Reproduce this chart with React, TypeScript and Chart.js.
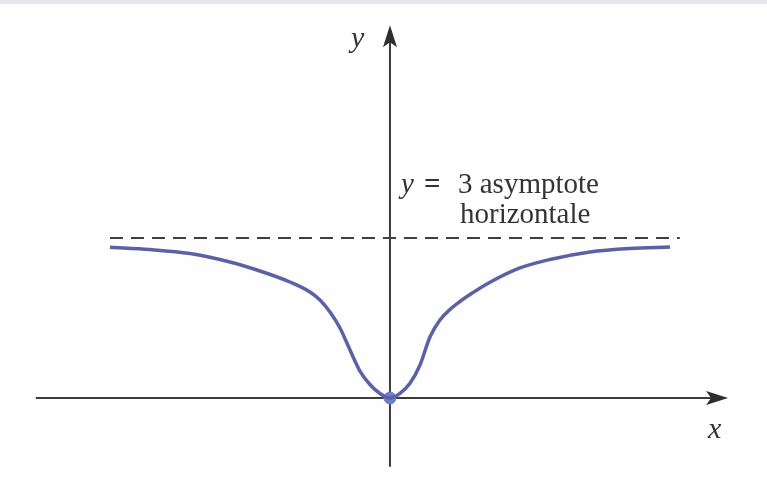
import React, { useEffect, useRef } from "react";
import { Chart, registerables } from "chart.js";

Chart.register(...registerables);

// Curve samples (x, y) of the function with horizontal asymptote y = 3
const curveX = [-4.0, -3.429, -2.857, -2.286, -1.857, -1.429, -1.143, -1.0, -0.857, -0.714, -0.571, -0.429, -0.286, -0.143, 0, 0.143, 0.286, 0.429, 0.571, 0.714, 0.857, 1.0, 1.143, 1.429, 1.857, 2.286, 2.857, 3.429, 4.0];
const curveY = [2.826, 2.784, 2.709, 2.55, 2.381, 2.175, 1.988, 1.838, 1.613, 1.313, 0.9, 0.506, 0.253, 0.084, 0, 0.088, 0.276, 0.619, 1.144, 1.463, 1.66, 1.81, 1.94, 2.17, 2.438, 2.597, 2.738, 2.803, 2.831];

// Horizontal asymptote y = 3
const asymptoteX = [-4.0, 4.14];
const asymptoteValue = 3;

// Point marked at the origin
const originPoint = [0, 0];

// Axis extents (data units)
const xRange = [-5.571, 5.386];
const yRange = [-1.781, 7.4625];
const xAxisExtent = [-5.06, 4.83];
const yAxisExtent = [-1.29, 6.99];

const serif = '"Liberation Serif", "DejaVu Serif", "Times New Roman", serif';

const axesPlugin = {
  id: "mathAxes",
  beforeDraw(chart: any) {
    const { ctx, width, height } = chart;
    ctx.save();
    ctx.fillStyle = "#fefefe";
    ctx.fillRect(0, 0, width, height);
    ctx.fillStyle = "#e6e7ec";
    ctx.fillRect(0, 0, width, 4);
    ctx.restore();
  },
  beforeDatasetsDraw(chart: any) {
    const { ctx } = chart;
    const xs = chart.scales.x;
    const ys = chart.scales.y;
    const x0 = xs.getPixelForValue(0);
    const y0 = ys.getPixelForValue(0);
    const xl = xs.getPixelForValue(xAxisExtent[0]);
    const xr = xs.getPixelForValue(xAxisExtent[1]);
    const yb = ys.getPixelForValue(yAxisExtent[0]);
    const yt = ys.getPixelForValue(yAxisExtent[1]);
    ctx.save();
    ctx.strokeStyle = "#3c3c3c";
    ctx.fillStyle = "#2e2e2e";
    ctx.lineWidth = 2;
    // x axis
    ctx.beginPath();
    ctx.moveTo(xl, y0);
    ctx.lineTo(xr - 10, y0);
    ctx.stroke();
    ctx.beginPath();
    ctx.moveTo(xr, y0);
    ctx.lineTo(xr - 22, y0 - 7);
    ctx.lineTo(xr - 17, y0);
    ctx.lineTo(xr - 22, y0 + 7);
    ctx.closePath();
    ctx.fill();
    // y axis
    ctx.beginPath();
    ctx.moveTo(x0, yb);
    ctx.lineTo(x0, yt + 10);
    ctx.stroke();
    ctx.beginPath();
    ctx.moveTo(x0, yt);
    ctx.lineTo(x0 - 7, yt + 22);
    ctx.lineTo(x0, yt + 17);
    ctx.lineTo(x0 + 7, yt + 22);
    ctx.closePath();
    ctx.fill();

    // labels
    ctx.fillStyle = "#333333";
    ctx.textBaseline = "alphabetic";
    ctx.textAlign = "left";
    ctx.font = `italic 30px ${serif}`;
    ctx.fillText("y", x0 - 39, yt + 22);
    ctx.fillText("x", xr - 20, y0 + 40);

    const ya = ys.getPixelForValue(asymptoteValue);
    ctx.font = `italic 29px ${serif}`;
    ctx.fillText("y", x0 + 11, ya - 45);
    ctx.font = `bold 29px ${serif}`;
    ctx.fillText("=", x0 + 34, ya - 45);
    ctx.font = `29px ${serif}`;
    ctx.fillText("3 asymptote", x0 + 68, ya - 45);
    ctx.fillText("horizontale", x0 + 70, ya - 15);
    ctx.restore();
  },
};

export default function App() {
  const ref = useRef<HTMLCanvasElement | null>(null);

  useEffect(() => {
    if (!ref.current) return;
    const curve = curveX.map((x, i) => ({ x, y: curveY[i] }));
    const asymptote = asymptoteX.map((x) => ({ x, y: asymptoteValue }));
    const chart = new Chart(ref.current, {
      type: "scatter",
      data: {
        datasets: [
          {
            data: asymptote,
            showLine: true,
            borderColor: "#404040",
            borderWidth: 2,
            borderDash: [13, 8],
            pointRadius: 0,
          },
          {
            data: curve,
            showLine: true,
            borderColor: "#5a62a4",
            borderWidth: 3.5,
            cubicInterpolationMode: "monotone",
            pointRadius: 0,
          },
          {
            data: [{ x: originPoint[0], y: originPoint[1] }],
            pointRadius: 6,
            pointBackgroundColor: "#6c80c8",
            pointBorderColor: "#6c80c8",
          },
        ],
      },
      options: {
        responsive: false,
        animation: false,
        layout: { padding: 0, autoPadding: false },
        plugins: { legend: { display: false }, tooltip: { enabled: false } },
        scales: {
          x: { type: "linear", min: xRange[0], max: xRange[1], display: false },
          y: { type: "linear", min: yRange[0], max: yRange[1], display: false },
        },
      },
      plugins: [axesPlugin],
    });
    return () => chart.destroy();
  }, []);

  return (
    <div style={{ position: "fixed", left: 0, top: 0, width: 767, height: 493 }}>
      <canvas ref={ref} width={767} height={493} style={{ display: "block" }} />
    </div>
  );
}
